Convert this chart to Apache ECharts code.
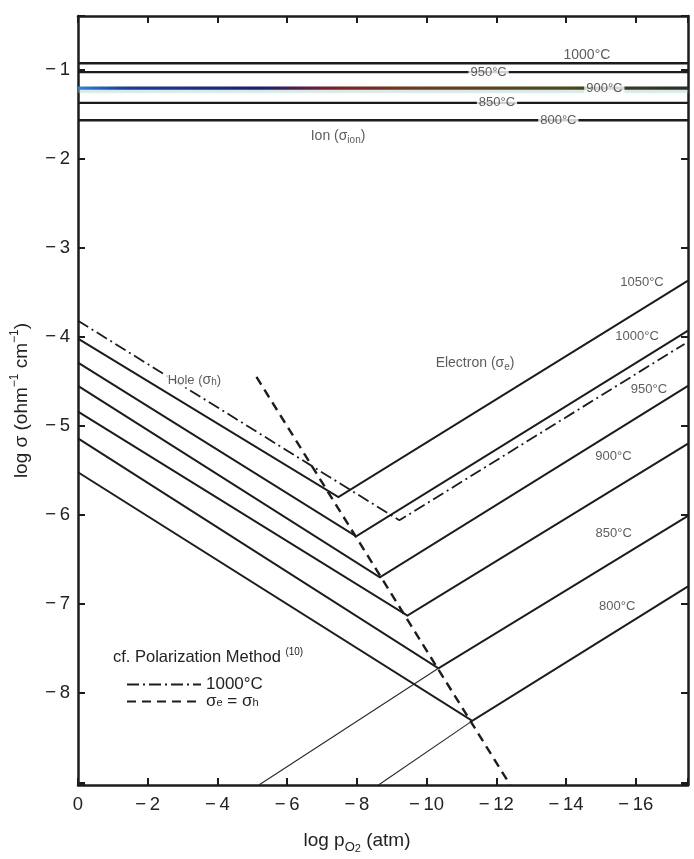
<!DOCTYPE html>
<html>
<head>
<meta charset="utf-8">
<script src="https://cdn.jsdelivr.net/npm/echarts@6/dist/echarts.min.js"></script>
<style>
html,body{margin:0;padding:0;background:#fff;}
#chart{width:694px;height:859px;}
</style>
</head>
<body>
<div id="chart"></div>
<script>
// ---------------- data (x: log pO2 / atm, y: log sigma / ohm^-1 cm^-1) ----------------
const xTickValues = [0, -2, -4, -6, -8, -10, -12, -14, -16];
const yTickValues = [-1, -2, -3, -4, -5, -6, -7, -8];

// ionic conductivity (flat lines)
const ionTemps = ['1000°C', '950°C', '900°C', '850°C', '800°C'];
const ionLogSigma = [-0.93, -1.03, -1.21, -1.375, -1.57];

// hole + electron branches (V shaped curves)
const mixTemps = ['1050°C', '1000°C', '950°C', '900°C', '850°C', '800°C'];
const holeStartLogSigma = [-4.02, -4.29, -4.55, -4.84, -5.14, -5.52];   // at log pO2 = 0
const minimumLogPO2 = [-7.47, -7.98, -8.66, -9.45, -10.34, -11.31];
const minimumLogSigma = [-5.80, -6.24, -6.70, -7.13, -7.72, -8.31];
const electronEndLogSigma = [-3.37, -3.93, -4.55, -5.20, -6.01, -6.80]; // at log pO2 = -17.5

// thin back-extensions of the electron branch (850 and 800 °C)
const extTemps = ['850°C', '800°C'];
const extStartLogPO2 = [-5.19, -8.62];   // on the bottom axis
const extStartLogSigma = [-9.03, -9.03];

// polarization method, 1000 °C (dash-dot)
const polLogPO2 = [0, -9.22, -17.4];
const polLogSigma = [-3.82, -6.06, -4.08];

// sigma_e = sigma_h locus (dashed)
const eqLogPO2 = [-5.12, -12.4];
const eqLogSigma = [-4.45, -9.03];

// text annotations (anchored in data coordinates)
const ionLabelText = ['950°C', '900°C', '850°C', '800°C', 'Hole ({g|σ}{s|h})'];
const ionLabelPO2 = [-11.78, -15.1, -12.02, -13.78, -3.34];
const ionLabelSigma = [-1.03, -1.21, -1.375, -1.57, -4.49];
const elLabelText = ['1050°C', '1000°C', '950°C', '900°C', '850°C', '800°C'];
const elLabelPO2 = [-16.18, -16.04, -16.38, -15.36, -15.37, -15.47];
const elLabelSigma = [-3.39, -4.00, -4.59, -5.34, -6.21, -7.03];
const noteText = ['1000°C', 'Ion ({g|σ}{s|ion})', 'Electron ({g|σ}{s|e})'];
const notePO2 = [-14.6, -7.46, -11.39];
const noteSigma = [-0.84, -1.75, -4.30];

// ---------------- chart ----------------
const X_MIN = -17.5, X_MAX = 0, Y_MIN = -9.03, Y_MAX = -0.4;
const FONT = '"Liberation Sans", Arial, Helvetica, sans-serif';
const INK = '#1c1c1c';
const POL_NAME = '1000°C ';
const EQ_NAME = 'σe = σh';

const chart = echarts.init(document.getElementById('chart'), null, {renderer: 'canvas'});

const series = [];

ionTemps.forEach((t, i) => {
  const v = ionLogSigma[i];
  let color = INK, extra = {};
  if (t === '900°C') {
    color = new echarts.graphic.LinearGradient(0, 0, 1, 0, [
      {offset: 0, color: '#2d8ad8'},
      {offset: 0.08, color: '#1d3b9a'},
      {offset: 0.3, color: '#1a1f6e'},
      {offset: 0.42, color: '#7d1c2a'},
      {offset: 0.55, color: '#6e3a1c'},
      {offset: 0.78, color: '#4c4a1e'},
      {offset: 1, color: '#2a2a2a'}
    ]);
    extra = {shadowColor: 'rgba(170,210,200,0.55)', shadowBlur: 2, shadowOffsetY: 3};
  }
  series.push({
    name: 'ion ' + t, type: 'line', symbol: 'none', silent: true, z: 2,
    data: [[X_MAX, v], [X_MIN, v]],
    lineStyle: Object.assign({color: color, width: t === '900°C' ? 3.2 : 2.4}, extra)
  });
});

mixTemps.forEach((t, i) => {
  series.push({
    name: 'mix ' + t, type: 'line', symbol: 'none', silent: true, z: 2,
    data: [[X_MAX, holeStartLogSigma[i]], [minimumLogPO2[i], minimumLogSigma[i]], [X_MIN, electronEndLogSigma[i]]],
    lineStyle: {color: INK, width: 2, join: 'miter'}
  });
});

extTemps.forEach((t, i) => {
  const k = mixTemps.indexOf(t);
  series.push({
    name: 'ext ' + t, type: 'line', symbol: 'none', silent: true, z: 2,
    data: [[extStartLogPO2[i], extStartLogSigma[i]], [minimumLogPO2[k], minimumLogSigma[k]]],
    lineStyle: {color: '#2a2a2a', width: 1.1}
  });
});

series.push({
  name: POL_NAME, type: 'line', symbol: 'none', silent: true, z: 3,
  itemStyle: {color: INK},
  data: polLogPO2.map((x, i) => [x, polLogSigma[i]]),
  lineStyle: {color: INK, width: 1.8, type: [12, 4, 2, 4]}
});

series.push({
  name: EQ_NAME, type: 'line', symbol: 'none', silent: true, z: 3,
  itemStyle: {color: INK},
  data: eqLogPO2.map((x, i) => [x, eqLogSigma[i]]),
  lineStyle: {color: INK, width: 2.4, type: [9, 6]}
});

const richSmall = {
  g: {fontFamily: FONT, fontSize: 14, color: '#333', lineHeight: 14},
  s: {fontFamily: FONT, fontSize: 10, color: '#333', lineHeight: 8, verticalAlign: 'bottom'}
};

const hiddenItem = {color: 'rgba(0,0,0,0)', borderWidth: 0};

// inline labels (break the lines behind them)
series.push({
  name: 'ionLabels', type: 'scatter', symbol: 'circle', symbolSize: 1, silent: true, z: 6,
  itemStyle: hiddenItem,
  data: ionLabelText.map((t, i) => ({name: t, value: [ionLabelPO2[i], ionLabelSigma[i]]})),
  label: {show: true, position: 'inside', formatter: p => p.name, fontFamily: FONT, fontSize: 13,
          color: '#333', backgroundColor: '#fff', padding: [0, 2], lineHeight: 13, rich: richSmall}
});

series.push({
  name: 'elLabels', type: 'scatter', symbol: 'circle', symbolSize: 1, silent: true, z: 6,
  itemStyle: hiddenItem,
  data: elLabelText.map((t, i) => ({name: t, value: [elLabelPO2[i], elLabelSigma[i]]})),
  label: {show: true, position: 'inside', formatter: p => p.name, fontFamily: FONT, fontSize: 13, color: '#333'}
});

series.push({
  name: 'notes', type: 'scatter', symbol: 'circle', symbolSize: 1, silent: true, z: 6,
  itemStyle: hiddenItem,
  data: noteText.map((t, i) => ({name: t, value: [notePO2[i], noteSigma[i]]})),
  label: {show: true, position: 'inside', formatter: p => p.name, fontFamily: FONT, fontSize: 14,
          color: '#333', lineHeight: 18,
          rich: {
            g: {fontFamily: FONT, fontSize: 14, color: '#333', lineHeight: 18},
            s: {fontFamily: FONT, fontSize: 10, color: '#333', lineHeight: 10, verticalAlign: 'bottom'}
          }}
});

const xLabel = v => {
  if (Math.abs(v - Math.round(v)) > 1e-9) return '';
  const r = Math.round(v);
  if (r % 2 !== 0 || xTickValues.indexOf(r) < 0) return '';
  return r === 0 ? '0' : '\u2212\u2009' + Math.abs(r);
};
const yLabel = v => {
  if (Math.abs(v - Math.round(v)) > 1e-9) return '';
  const r = Math.round(v);
  if (yTickValues.indexOf(r) < 0) return '';
  return '\u2212\u2009' + Math.abs(r);
};

const axisLine = {onZero: false, lineStyle: {color: INK, width: 2.5}};
const axisTick = {inside: true, length: 7, lineStyle: {color: INK, width: 2}};

const option = {
  animation: false,
  backgroundColor: '#fff',
  grid: {left: 78, right: 6, top: 16, bottom: 72, containLabel: false},
  xAxis: [{
    type: 'value', min: X_MIN, max: X_MAX, inverse: true, position: 'bottom',
    minInterval: 2, maxInterval: 2,
    axisLine: axisLine, axisTick: axisTick, splitLine: {show: false},
    axisLabel: {formatter: xLabel, fontFamily: FONT, fontSize: 18.5, color: '#222', margin: 10},
    name: 'log p{s|O}{ss|2} (atm)', nameLocation: 'middle', nameGap: 43,
    nameTextStyle: {fontFamily: FONT, fontSize: 19, color: '#222', lineHeight: 26, padding: [0, 52, 0, 0],
      rich: {
        s: {fontFamily: FONT, fontSize: 13, color: '#222', lineHeight: 16, verticalAlign: 'bottom'},
        ss: {fontFamily: FONT, fontSize: 11, color: '#222', lineHeight: 8, verticalAlign: 'bottom'}
      }}
  }, {
    type: 'value', min: X_MIN, max: X_MAX, inverse: true, position: 'top',
    minInterval: 2, maxInterval: 2,
    axisLine: axisLine, axisTick: axisTick, splitLine: {show: false}, axisLabel: {show: false}
  }],
  yAxis: [{
    type: 'value', min: Y_MIN, max: Y_MAX, position: 'left',
    minInterval: 1, maxInterval: 1,
    axisLine: axisLine, axisTick: axisTick, splitLine: {show: false},
    axisLabel: {formatter: yLabel, fontFamily: FONT, fontSize: 18.5, color: '#222', margin: 8},
    name: 'log σ (ohm{p|\u22121} cm{p|\u22121})', nameLocation: 'middle', nameGap: 35, nameRotate: 90,
    nameTextStyle: {fontFamily: FONT, fontSize: 19, color: '#222', lineHeight: 26,
      rich: {p: {fontFamily: FONT, fontSize: 12, color: '#222', lineHeight: 14, verticalAlign: 'top'}}}
  }, {
    type: 'value', min: Y_MIN, max: Y_MAX, position: 'right',
    minInterval: 1, maxInterval: 1,
    axisLine: axisLine, axisTick: axisTick, splitLine: {show: false}, axisLabel: {show: false}
  }],
  legend: {
    data: [POL_NAME, EQ_NAME], orient: 'vertical', left: 121, top: 671,
    itemWidth: 74, itemHeight: 12, itemGap: 0, selectedMode: false,
    itemStyle: {opacity: 0},
    lineStyle: {color: INK},
    formatter: n => n === EQ_NAME ? '{g|σ}{s|e} = {g|σ}{s|h}' : '1000°C',
    textStyle: {fontFamily: FONT, fontSize: 17, color: '#222', lineHeight: 13,
      rich: {
        g: {fontFamily: FONT, fontSize: 17, color: '#222', lineHeight: 13},
        s: {fontFamily: FONT, fontSize: 11, color: '#222', lineHeight: 7, verticalAlign: 'bottom'}
      }}
  },
  graphic: [{
    type: 'text', left: 113, top: 647, silent: true,
    style: {
      text: 'cf. Polarization Method {p|(10)}',
      fontFamily: FONT, fontSize: 16.5, fill: '#222', lineHeight: 20,
      rich: {p: {fontFamily: FONT, fontSize: 10, fill: '#222', lineHeight: 10, verticalAlign: 'top'}}
    }
  }],
  series: series
};

chart.setOption(option);
</script>
</body>
</html>
